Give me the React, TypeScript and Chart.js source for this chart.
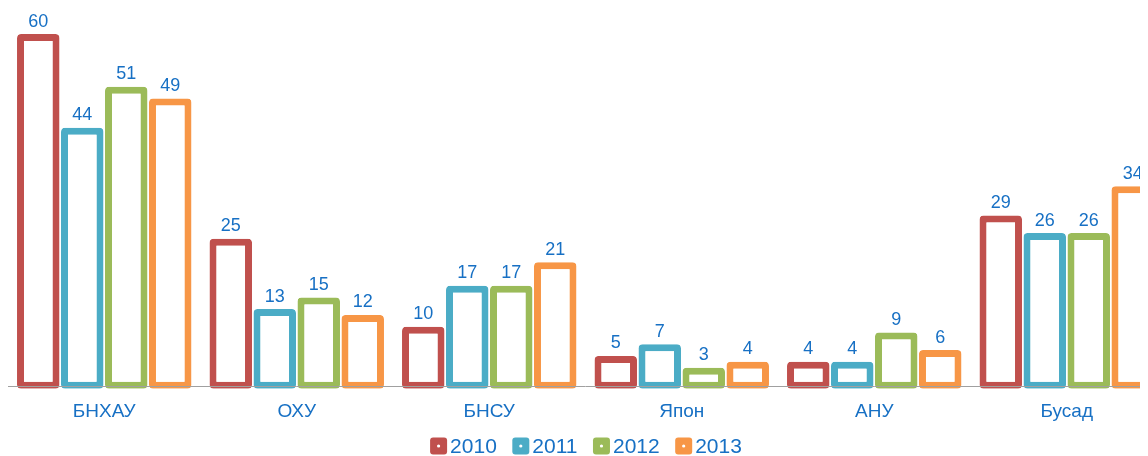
import React, { useEffect, useRef } from "react";
import { Chart, registerables } from "chart.js";

Chart.register(...registerables);

const categories = ["БНХАУ", "ОХУ", "БНСУ", "Япон", "АНУ", "Бусад"];
const seriesNames = ["2010", "2011", "2012", "2013"];
const values2010 = [60, 25, 10, 5, 4, 29];
const values2011 = [44, 13, 17, 7, 4, 26];
const values2012 = [51, 15, 17, 3, 9, 26];
const values2013 = [49, 12, 21, 4, 6, 34];
const colors = ["#c0504d", "#4bacc6", "#9bbb59", "#f79646"];
const textBlue = "#1770c4";
const FONT = "'Liberation Sans', Arial, sans-serif";

const labelPlugin = {
  id: "valueLabels",
  afterDatasetsDraw(chart: any) {
    const ctx = chart.ctx;
    ctx.save();
    // axis line drawn over the bars' bottom border
    const y0 = Math.round(chart.scales.y.getPixelForValue(0)) + 1.5;
    ctx.strokeStyle = "#a0a0a0";
    ctx.lineWidth = 1;
    ctx.beginPath();
    ctx.moveTo(chart.chartArea.left, y0);
    ctx.lineTo(chart.chartArea.right, y0);
    ctx.stroke();

    ctx.font = `18px ${FONT}`;
    ctx.fillStyle = textBlue;
    ctx.textAlign = "center";
    ctx.textBaseline = "alphabetic";
    chart.data.datasets.forEach((ds: any, i: number) => {
      const meta = chart.getDatasetMeta(i);
      meta.data.forEach((bar: any, j: number) => {
        ctx.fillText(String(ds.data[j]), bar.x, bar.y - 7.5);
      });
    });
    ctx.restore();
  },
};

const legendPlugin = {
  id: "customLegend",
  afterDraw(chart: any) {
    const ctx = chart.ctx;
    ctx.save();
    ctx.font = `21px ${FONT}`;
    const box = 17;
    const gapText = 3;
    const gapItem = 15.5;
    const widths = seriesNames.map((n) => box + gapText + ctx.measureText(n).width);
    const total = widths.reduce((a, b) => a + b, 0) + gapItem * (seriesNames.length - 1);
    let x = 586 - 8 - total / 2;
    const cy = 438;
    seriesNames.forEach((n, i) => {
      ctx.fillStyle = colors[i];
      ctx.beginPath();
      (ctx as any).roundRect(x, cy - box / 2, box, box, 3);
      ctx.fill();
      ctx.fillStyle = "#ffffff";
      ctx.beginPath();
      ctx.arc(x + box / 2, cy, 1.6, 0, Math.PI * 2);
      ctx.fill();
      ctx.fillStyle = textBlue;
      ctx.textAlign = "left";
      ctx.textBaseline = "middle";
      ctx.fillText(n, x + box + gapText, cy + 1);
      x += widths[i] + gapItem;
    });
    ctx.restore();
  },
};

export default function App() {
  const ref = useRef<HTMLCanvasElement>(null);
  useEffect(() => {
    if (!ref.current) return;
    const all = [values2010, values2011, values2012, values2013];
    const chart = new Chart(ref.current, {
      type: "bar",
      data: {
        labels: categories,
        datasets: all.map((d, i) => ({
          label: seriesNames[i],
          data: d,
          base: -0.6,
          backgroundColor: "#ffffff",
          borderColor: colors[i],
          borderWidth: 7,
          borderRadius: 4,
          borderSkipped: false,
          categoryPercentage: 0.914,
          barPercentage: 0.966,
        })),
      },
      options: {
        responsive: false,
        animation: false,
        layout: { padding: { top: 26, left: 0, right: 0, bottom: 28.5 } },
        plugins: { legend: { display: false }, tooltip: { enabled: false } },
        scales: {
          x: {
            grid: { display: false },
            border: { display: false },
            ticks: {
              color: textBlue,
              font: { size: 19, family: FONT },
              padding: 4,
            },
          },
          y: { display: false, min: -0.6, max: 60 },
        },
      },
      plugins: [labelPlugin, legendPlugin],
    });
    return () => chart.destroy();
  }, []);
  return (
    <div style={{ width: 1140, height: 448, overflow: "hidden" }}>
      <canvas ref={ref} width={1155} height={448} style={{ display: "block" }} />
    </div>
  );
}
